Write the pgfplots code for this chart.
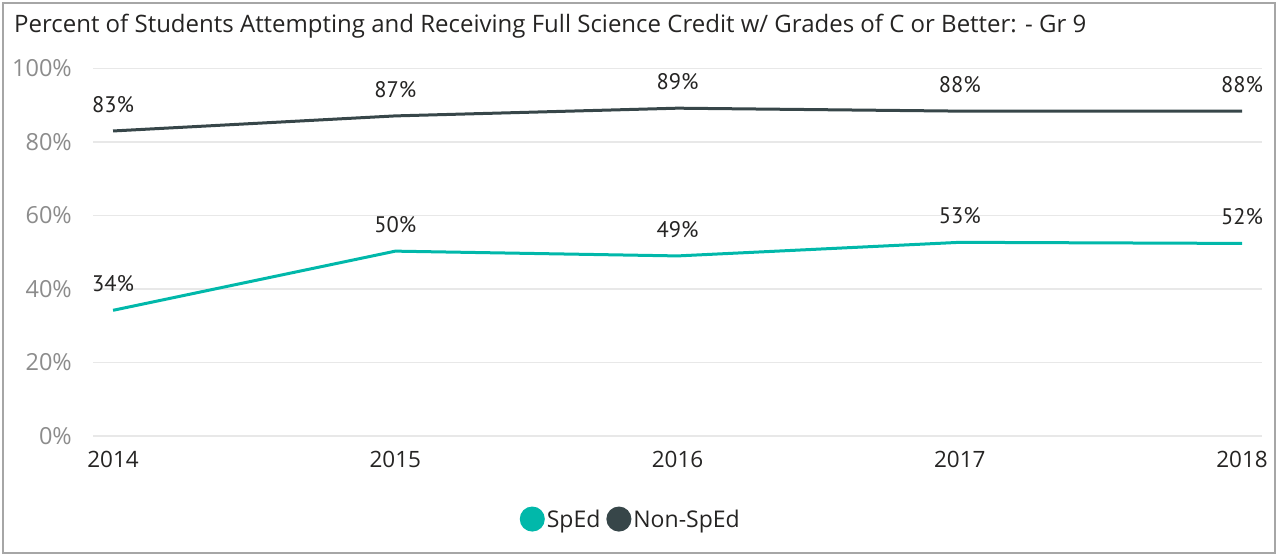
\documentclass[border=0pt]{standalone}
\usepackage{fontspec}
\setmainfont{Open Sans}
\newfontfamily\labfont{PT Sans}
\usepackage{pgfplots}
\pgfplotsset{compat=1.18}
\definecolor{sped}{HTML}{01B8AA}
\definecolor{nonsped}{HTML}{374649}
\definecolor{tickgray}{HTML}{8C8C8C}
\definecolor{txt}{HTML}{252423}
\begin{document}
\begin{tikzpicture}
\path (0bp,0bp) rectangle (1278bp,556bp);
\draw[color=gray!70, line width=1.5bp] (3bp,3bp) rectangle (1275bp,553bp);
\node[anchor=west, inner sep=0pt, text=txt, font=\fontsize{24bp}{27bp}\selectfont] at (14bp,530bp)
  {Percent of Students Attempting and Receiving Full Science Credit w/ Grades of C or Better: - Gr 9};
\begin{axis}[
    at={(93bp,120bp)}, anchor=south west,
    scale only axis,
    width=1169bp, height=367.5bp,
    xmin=2013.929, xmax=2018.071,
    ymin=0, ymax=100,
    xtick={2014,2015,2016,2017,2018},
    xticklabels={2014,2015,2016,2017,2018},
    ytick={0,20,40,60,80,100},
    yticklabels={0\%,20\%,40\%,60\%,80\%,100\%},
    axis line style={draw=none},
    tick style={draw=none},
    ymajorgrids,
    major grid style={color=black!9, line width=1.2bp},
    xticklabel style={font=\fontsize{22.5bp}{26bp}\selectfont, text=txt, inner sep=0pt, anchor=north, yshift=-15bp},
    yticklabel style={font=\fontsize{23.5bp}{27bp}\selectfont, text=tickgray, inner sep=0pt, anchor=east, xshift=-21bp},
    nodes near coords={\pgfmathprintnumber[fixed,precision=0,assume math mode=true]{\pgfplotspointmeta}\%},
    nodes near coords style={font=\labfont\fontsize{22.5bp}{25bp}\selectfont, text=txt, anchor=south, inner sep=0pt, yshift=17bp},
    clip=false,
    legend style={draw=none, fill=none, at={(0.46,-0.226)}, anchor=center,
        legend columns=2, font=\fontsize{23bp}{26bp}\selectfont, text=txt,
        /tikz/every even column/.append style={column sep=4bp},
        nodes={inner xsep=2bp}},
    legend image code/.code={\fill (0.3em,0bp) circle (11bp);},
]
\addplot[sped, line width=3bp] coordinates {
    (2014,34.2) (2015,50.3) (2016,49.0) (2017,52.7) (2018,52.4)
};
\addplot[nonsped, line width=3bp] coordinates {
    (2014,83.0) (2015,87.1) (2016,89.2) (2017,88.4) (2018,88.4)
};
\legend{SpEd,Non-SpEd}
\end{axis}
\end{tikzpicture}
\end{document}
